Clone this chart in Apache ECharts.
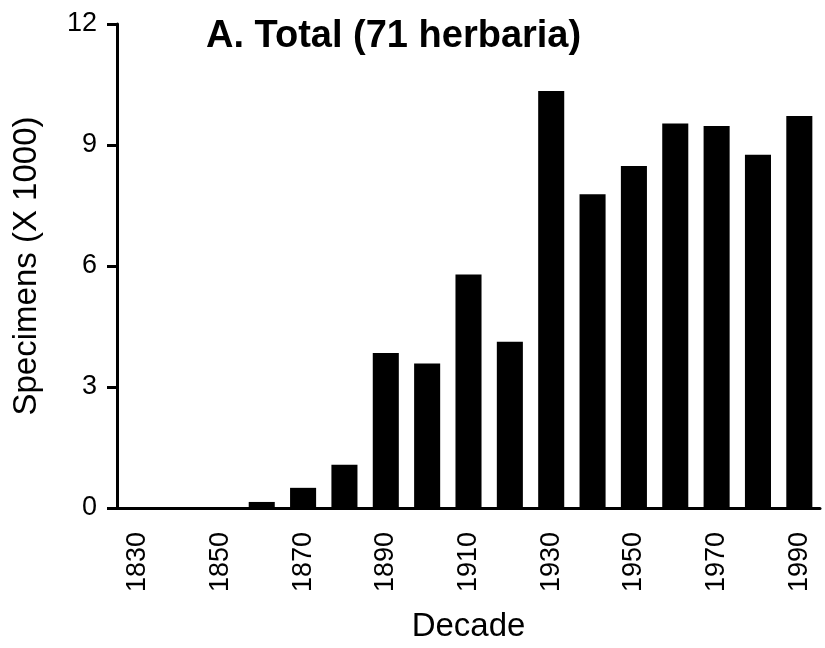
<!DOCTYPE html>
<html>
<head>
<meta charset="utf-8">
<script src="https://cdn.jsdelivr.net/npm/echarts@6/dist/echarts.min.js"></script>
<style>
  html, body { margin: 0; padding: 0; background: #fff; }
  #chart { width: 825px; height: 648px; }
</style>
</head>
<body>
<div id="chart"></div>
<script>
// decades on the x axis
var decades = ['1830', '1840', '1850', '1860', '1870', '1880', '1890', '1900', '1910',
  '1920', '1930', '1940', '1950', '1960', '1970', '1980', '1990'];
// specimens, in thousands
var specimens = [0, 0, 0, 0.15, 0.5, 1.07, 3.84, 3.58, 5.79,
  4.12, 10.34, 7.78, 8.48, 9.53, 9.47, 8.76, 9.72];
var yTicks = [0, 3, 6, 9, 12];

var fontName = '"Liberation Sans", Arial, sans-serif';

var myChart = echarts.init(document.getElementById('chart'));
var option = {
  animation: false,
  backgroundColor: '#fff',
  title: {
    text: 'A. Total (71 herbaria)',
    left: 201,
    top: 13,
    textStyle: { fontFamily: fontName, fontSize: 38, fontWeight: 'bold', color: '#000' }
  },
  grid: { left: 117, right: 5, top: 24, bottom: 140 },
  xAxis: {
    type: 'category',
    data: decades,
    name: 'Decade',
    nameLocation: 'middle',
    nameGap: 102,
    nameTextStyle: { fontFamily: fontName, fontSize: 33, color: '#000', verticalAlign: 'top' },
    axisLine: { lineStyle: { color: '#000', width: 3 } },
    axisTick: { interval: 0, length: 10, lineStyle: { color: '#000', width: 3 } },
    axisLabel: {
      interval: 1,
      rotate: 90,
      margin: 24,
      fontFamily: fontName,
      fontSize: 27,
      color: '#000'
    }
  },
  yAxis: {
    type: 'value',
    min: yTicks[0],
    max: yTicks[yTicks.length - 1],
    interval: 3,
    name: 'Specimens (X 1000)',
    nameLocation: 'middle',
    nameGap: 74,
    nameTextStyle: { fontFamily: fontName, fontSize: 33, color: '#000' },
    axisLine: { show: true, lineStyle: { color: '#000', width: 3 } },
    axisTick: { show: true, length: 10, lineStyle: { color: '#000', width: 3 } },
    axisLabel: { margin: 20, fontFamily: fontName, fontSize: 27, color: '#000' },
    splitLine: { show: false }
  },
  series: [{
    type: 'bar',
    data: specimens,
    barWidth: '63%',
    itemStyle: { color: '#000' }
  }]
};
myChart.setOption(option);
</script>
</body>
</html>
